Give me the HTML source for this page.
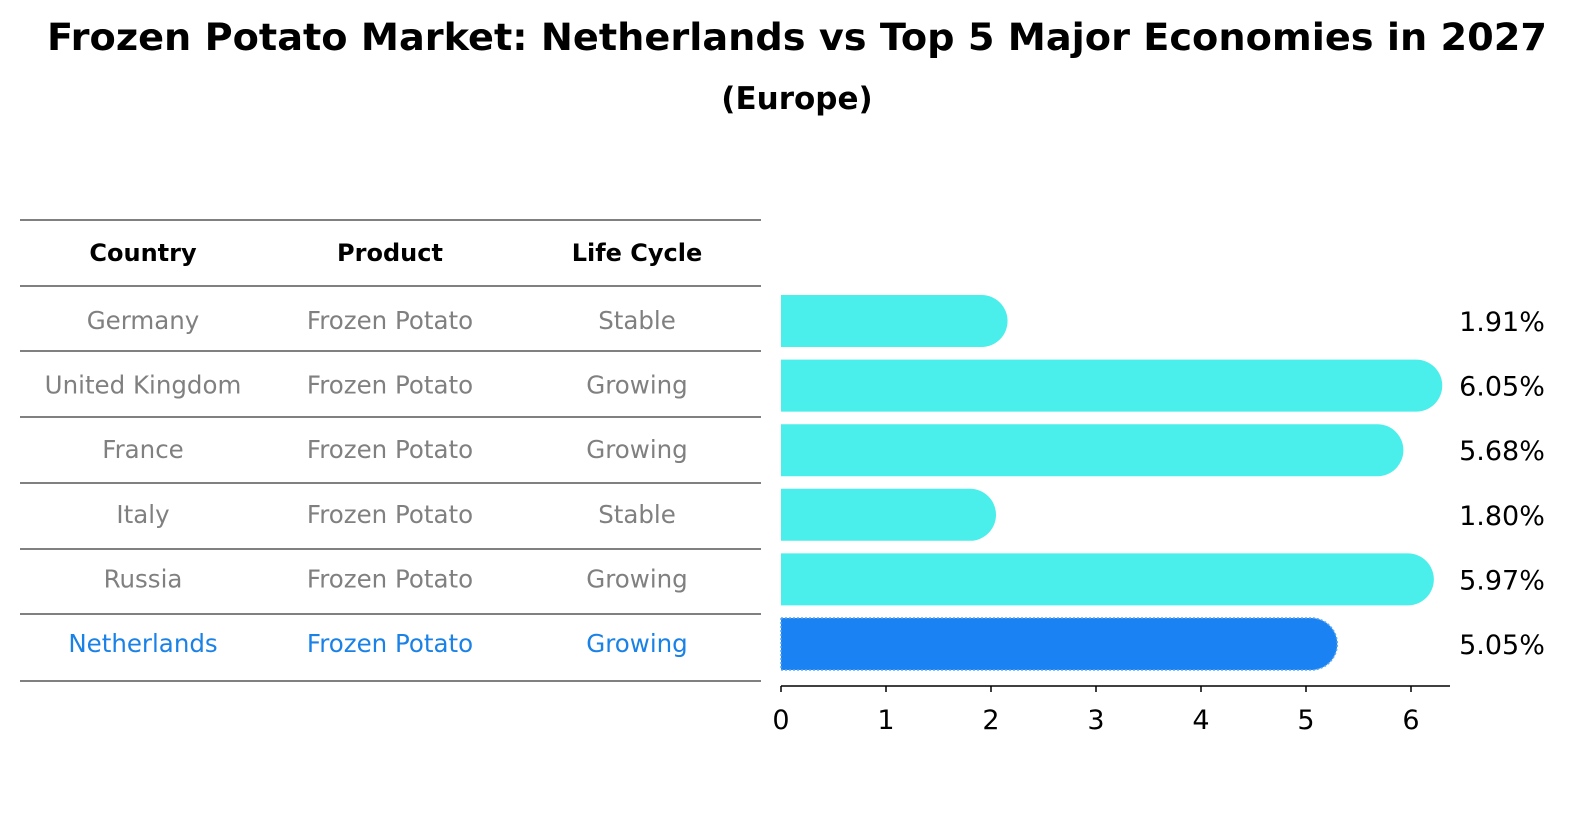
<!DOCTYPE html>
<html><head><meta charset="utf-8"><style>
body{margin:0;background:#fff;font-family:"Liberation Sans","DejaVu Sans",sans-serif}
svg text{font-family:"DejaVu Sans","Liberation Sans",sans-serif}
</style></head><body>
<svg width="1589" height="823" viewBox="0 0 1589 823">
<text x="797" y="50" text-anchor="middle" font-size="37" font-weight="bold" textLength="1500" lengthAdjust="spacingAndGlyphs">Frozen Potato Market: Netherlands vs Top 5 Major Economies in 2027</text>
<text x="797" y="109" text-anchor="middle" font-size="31" font-weight="bold">(Europe)</text>
<g id="table"></g>
<g id="bars"></g>
<g id="axis"></g>
</svg>
<script>
const countries=["Germany","United Kingdom","France","Italy","Russia","Netherlands"];
const products=["Frozen Potato","Frozen Potato","Frozen Potato","Frozen Potato","Frozen Potato","Frozen Potato"];
const lifecycles=["Stable","Growing","Growing","Stable","Growing","Growing"];
const values=[1.91,6.05,5.68,1.80,5.97,5.05];
const ticks=[0,1,2,3,4,5,6];
const NS="http://www.w3.org/2000/svg";
function mk(tag,attrs,parent,text){const e=document.createElementNS(NS,tag);for(const k in attrs)e.setAttribute(k,attrs[k]);if(text!==undefined)e.textContent=text;parent.appendChild(e);return e;}
const x0=781,unit=105;
const xs=v=>x0+v*unit;
const rowY=i=>321+i*64.6;
const table=document.getElementById('table');
const lines=[220,286,351,417,483,549,614,681];
lines.forEach((y,i)=>{const l=mk('line',{x1:20,x2:761,y1:y,y2:y,stroke:'#000','stroke-width':1},table);

});
const colX=[143,390,637];
["Country","Product","Life Cycle"].forEach((h,j)=>{const t=mk('text',{x:colX[j],y:261,'text-anchor':'middle','font-size':24,'font-weight':'bold'},table,h);

});
countries.forEach((c,i)=>{const col=i===countries.length-1?'#1a82e6':'#808080';const y=rowY(i)+8;
[c,products[i],lifecycles[i]].forEach((s,j)=>{const t=mk('text',{x:colX[j],y:y,'text-anchor':'middle','font-size':24.5,fill:col},table,s);

});});
const bars=document.getElementById('bars');
const h=52,r=26;
values.forEach((v,i)=>{const hl=i===values.length-1;const col=hl?'#1a82f2':'#4aeeea';const y=rowY(i)-h/2;const xe=xs(v);
const p=mk('path',{d:`M${x0},${y}H${xe}A${r},${r} 0 0 1 ${xe},${y+h}H${x0}Z`,fill:col},bars);
if(hl){p.setAttribute('stroke','#5aa8f0');p.setAttribute('stroke-dasharray','2,2');p.setAttribute('stroke-width','1.5');}


const t=mk('text',{x:1502,y:rowY(i)+10,'text-anchor':'middle','font-size':27},bars,v.toFixed(2)+'%');

});
const axis=document.getElementById('axis');
const al=mk('line',{x1:x0,x2:1450,y1:686,y2:686,stroke:'#000','stroke-width':1.5},axis);


ticks.forEach(t=>{const tl=mk('line',{x1:xs(t),x2:xs(t),y1:686,y2:692,stroke:'#000','stroke-width':1.5},axis);


const tx=mk('text',{x:xs(t),y:729,'text-anchor':'middle','font-size':27},axis,String(t));

});
</script>
</body></html>
